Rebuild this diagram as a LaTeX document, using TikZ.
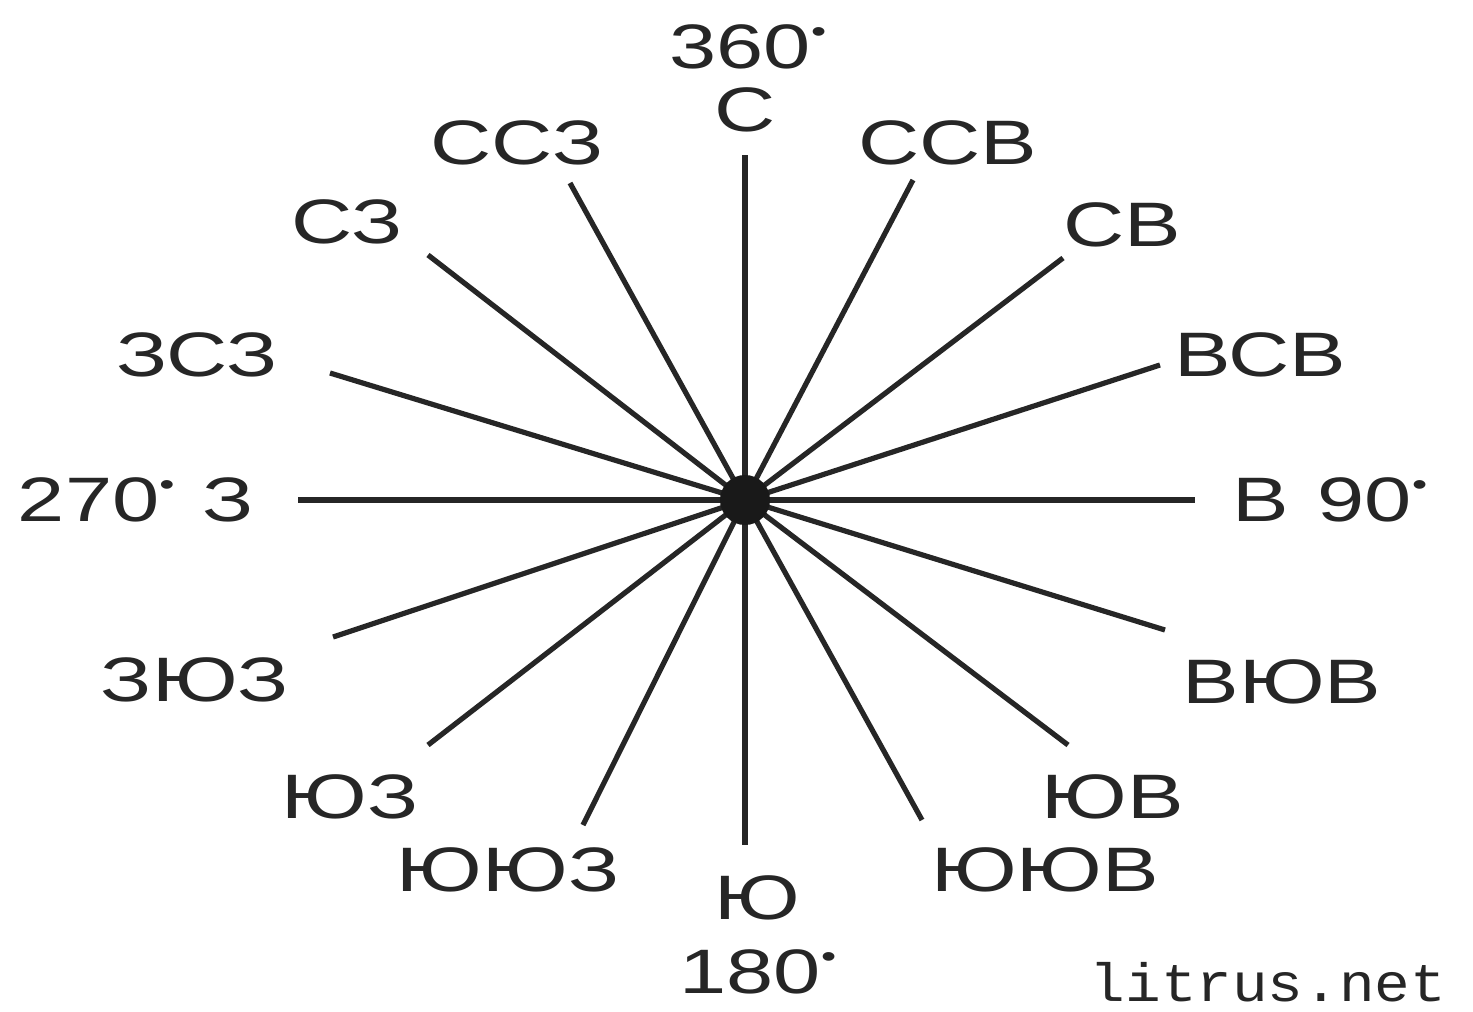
\documentclass[tikz,border=0pt]{standalone}
\usepackage{fontspec}
\setmainfont{Liberation Sans}
\newfontfamily\monof{Liberation Mono}
\newcommand{\mydeg}{\raisebox{0.42em}{\fontsize{16}{18}\selectfont\textbullet}}
\begin{document}
\begin{tikzpicture}[x=0.5pt,y=-0.5pt,
  lbl/.style={inner sep=0pt, xscale=1.35, font=\fontsize{31.4}{36}\selectfont, text=black!85},
  ray/.style={line width=2.6pt, black!85}]
\useasboundingbox (0,0) rectangle (1473,1012);
\fill[white] (0,0) rectangle (1473,1012);
\coordinate (c) at (745,500);
\coordinate (eN) at (745,155);
\coordinate (eNNE) at (913,180);
\coordinate (eNE) at (1063,258);
\coordinate (eENE) at (1160,365);
\coordinate (eE) at (1195,500);
\coordinate (eESE) at (1165,630);
\coordinate (eSE) at (1068,745);
\coordinate (eSSE) at (922,820);
\coordinate (eS) at (745,845);
\coordinate (eSSW) at (583,825);
\coordinate (eSW) at (428,745);
\coordinate (eWSW) at (333,637);
\coordinate (eW) at (298,500);
\coordinate (eWNW) at (330,373);
\coordinate (eNW) at (428,255);
\coordinate (eNNW) at (570,183);
\foreach \e in {eN,eNNE,eNE,eENE,eE,eESE,eSE,eSSE,eS,eSSW,eSW,eWSW,eW,eWNW,eNW,eNNW}
  \draw[ray] (c) -- (\e);
\fill[black!90] (c) circle (25);
\node[lbl] (t360) at (748,47) {360\mydeg};
\node[lbl] (tN) at (745,110) {С};
\node[lbl] (tNNW) at (517,143) {ССЗ};
\node[lbl] (tNNE) at (948,143) {ССВ};
\node[lbl] (tNW) at (347,222) {СЗ};
\node[lbl] (tNE) at (1122,225) {СВ};
\node[lbl] (tWNW) at (197,355) {ЗСЗ};
\node[lbl] (tENE) at (1260,355) {ВСВ};
\node[lbl] (tW) at (136,500) {270\mydeg\,\,З};
\node[lbl] (tE) at (1330,500) {В\,\,90\mydeg};
\node[lbl] (tWSW) at (195,680) {ЗЮЗ};
\node[lbl] (tESE) at (1282,682) {ВЮВ};
\node[lbl] (tSW) at (350,797) {ЮЗ};
\node[lbl] (tSE) at (1113,797) {ЮВ};
\node[lbl] (tSSW) at (508,870) {ЮЮЗ};
\node[lbl] (tSSE) at (1045,870) {ЮЮВ};
\node[lbl] (tS) at (757,898) {Ю};
\node[lbl] (t180) at (758,972) {180\mydeg};
\node[inner sep=0pt, xscale=1.1, font=\monof\fontsize{27}{30}\selectfont, text=black!85] (wm) at (1268,982) {litrus.net};
\end{tikzpicture}
\end{document}
